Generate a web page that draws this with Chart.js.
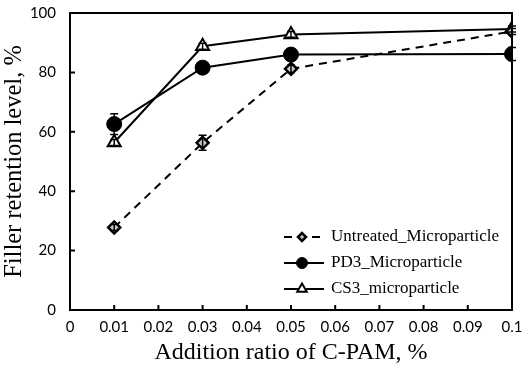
<!DOCTYPE html>
<html>
<head>
<meta charset="utf-8">
<script src="https://cdn.jsdelivr.net/npm/chart.js@4.4.1/dist/chart.umd.min.js"></script>
<style>
  html, body { margin: 0; padding: 0; background: #fff; }
  #wrap { width: 525px; height: 374px; }
</style>
</head>
<body>
<div id="wrap"><canvas id="myChart"></canvas></div>
<script>
// values
const xValues = [0.01, 0.03, 0.05, 0.1];
const untreated = [27.8, 56.3, 81.2, 93.8];
const untreatedErr = [1.0, 2.5, 1.2, 1.0];
const pd3 = [62.6, 81.6, 86.0, 86.2];
const pd3Err = [3.5, 1.0, 1.0, 2.2];
const cs3 = [56.4, 88.8, 92.8, 94.6];
const cs3Err = [1.0, 1.0, 1.0, 1.0];

const xTicks = [0, 0.01, 0.02, 0.03, 0.04, 0.05, 0.06, 0.07, 0.08, 0.09, 0.1];
const xTickLabels = ['0', '0.01', '0.02', '0.03', '0.04', '0.05', '0.06', '0.07', '0.08', '0.09', '0.1'];
const yTicks = [0, 20, 40, 60, 80, 100];

const serif = "'Liberation Serif', 'Times New Roman', serif";
const sans = "Lato, 'Liberation Sans', sans-serif";

function pts(ys) {
  return xValues.map((x, i) => ({ x: x, y: ys[i] }));
}

const errs = [untreatedErr, pd3Err, cs3Err];

// error bars, inward ticks, frame and legend
const extras = {
  id: 'extras',
  afterDatasetsDraw(chart) {
    const ctx = chart.ctx;
    const xs = chart.scales.x, ys = chart.scales.y;
    ctx.save();
    ctx.strokeStyle = '#000';
    ctx.lineWidth = 1.5;
    chart.data.datasets.forEach((ds, di) => {
      ds.data.forEach((p, i) => {
        const e = errs[di][i];
        const px = xs.getPixelForValue(p.x);
        const top = ys.getPixelForValue(p.y + e);
        const bot = ys.getPixelForValue(p.y - e);
        ctx.beginPath();
        ctx.moveTo(px, top); ctx.lineTo(px, bot);
        ctx.moveTo(px - 4, top); ctx.lineTo(px + 4, top);
        ctx.moveTo(px - 4, bot); ctx.lineTo(px + 4, bot);
        ctx.stroke();
      });
    });
    ctx.restore();
  },
  afterDraw(chart) {
    const ctx = chart.ctx;
    const a = chart.chartArea;
    const xs = chart.scales.x, ys = chart.scales.y;
    ctx.save();
    ctx.strokeStyle = '#000';
    ctx.lineWidth = 2;
    ctx.strokeRect(a.left, a.top, a.right - a.left, a.bottom - a.top);
    ctx.beginPath();
    xTicks.forEach(v => {
      const px = xs.getPixelForValue(v);
      ctx.moveTo(px, a.bottom); ctx.lineTo(px, a.bottom - 5);
    });
    yTicks.forEach(v => {
      const py = ys.getPixelForValue(v);
      ctx.moveTo(a.left, py); ctx.lineTo(a.left + 5, py);
    });
    ctx.stroke();

    // legend
    const lx = a.right - 228, ly = a.bottom - 73, gap = 26;
    chart.data.datasets.forEach((ds, i) => {
      const y = ly + i * gap;
      ctx.save();
      ctx.strokeStyle = '#000';
      ctx.lineWidth = 2;
      ctx.setLineDash(ds.borderDash || []);
      ctx.beginPath();
      ctx.moveTo(lx, y); ctx.lineTo(lx + 40, y);
      ctx.stroke();
      ctx.restore();
      ctx.save();
      ctx.fillStyle = ds.pointBackgroundColor;
      ctx.strokeStyle = '#000';
      ctx.lineWidth = ds.pointBorderWidth;
      Chart.helpers.drawPoint(ctx, {
        pointStyle: ds.pointStyle,
        rotation: 0,
        radius: ds.pointRadius - 2,
        borderWidth: ds.pointBorderWidth
      }, lx + 18, y);
      ctx.restore();
      ctx.fillStyle = '#000';
      ctx.font = "17px " + serif;
      ctx.textBaseline = 'middle';
      ctx.fillText(ds.label, lx + 47, y);
    });
    ctx.restore();
  }
};

new Chart(
  document.getElementById('myChart'),
  {
    type: 'line',
    data: {
      datasets: [
        {
          label: 'Untreated_Microparticle',
          data: pts(untreated),
          borderColor: '#000',
          borderWidth: 2,
          borderDash: [8, 6],
          pointStyle: 'rectRot',
          pointRadius: 6,
          pointBackgroundColor: '#c8c8c8',
          pointBorderColor: '#000',
          pointBorderWidth: 2.5
        },
        {
          label: 'PD3_Microparticle',
          data: pts(pd3),
          borderColor: '#000',
          borderWidth: 2,
          pointStyle: 'circle',
          pointRadius: 7.5,
          pointBackgroundColor: '#000',
          pointBorderColor: '#000',
          pointBorderWidth: 1
        },
        {
          label: 'CS3_microparticle',
          data: pts(cs3),
          borderColor: '#000',
          borderWidth: 2,
          pointStyle: 'triangle',
          pointRadius: 7.5,
          pointBackgroundColor: '#fff',
          pointBorderColor: '#000',
          pointBorderWidth: 2
        }
      ]
    },
    options: {
      animation: false,
      responsive: true,
      maintainAspectRatio: false,
      layout: { padding: { top: 13, right: 13, left: 0, bottom: 0 } },
      scales: {
        x: {
          type: 'linear',
          min: 0,
          max: 0.1,
          afterBuildTicks: s => { s.ticks = xTicks.map(v => ({ value: v })); },
          afterFit: s => { s.height = 64; s.paddingLeft = 0; s.paddingRight = 0; },
          grid: { display: false, drawTicks: false },
          border: { display: false },
          ticks: {
            padding: 8,
            color: '#000',
            font: { family: sans, size: 15 },
            maxRotation: 0,
            autoSkip: false,
            callback: (v, i) => xTickLabels[i]
          },
          title: {
            display: true,
            text: 'Addition ratio of C-PAM, %',
            color: '#000',
            font: { family: serif, size: 24 },
            padding: { top: 0, bottom: 7 }
          }
        },
        y: {
          min: 0,
          max: 100,
          afterBuildTicks: s => { s.ticks = yTicks.map(v => ({ value: v })); },
          afterFit: s => { s.width = 70; s.paddingTop = 0; s.paddingBottom = 0; },
          grid: { display: false, drawTicks: false },
          border: { display: false },
          ticks: {
            padding: 14,
            color: '#000',
            font: { family: sans, size: 15 }
          },
          title: {
            display: true,
            text: 'Filler retention level, %',
            color: '#000',
            font: { family: serif, size: 24.5 },
            padding: { top: 0, bottom: 0 }
          }
        }
      },
      plugins: {
        legend: { display: false },
        tooltip: { enabled: false }
      }
    },
    plugins: [extras]
  }
);
</script>
</body>
</html>
